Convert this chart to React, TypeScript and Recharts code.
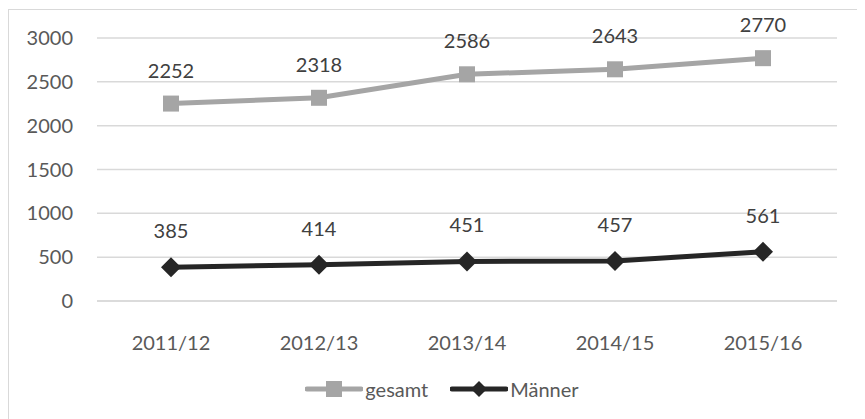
import { LineChart, Line, XAxis, YAxis, CartesianGrid, LabelList } from 'recharts';

const years = ['2011/12', '2012/13', '2013/14', '2014/15', '2015/16'];
const gesamt = [2252, 2318, 2586, 2643, 2770];
const maenner = [385, 414, 451, 457, 561];
const yTicks = [0, 500, 1000, 1500, 2000, 2500, 3000];

const data = years.map((year, i) => ({ year, gesamt: gesamt[i], maenner: maenner[i] }));

const FONT = 'Lato, "Open Sans", sans-serif';
const GRAY = '#A5A5A5';
const DARK = '#262626';

const SquareDot = (props: any) => {
  const { cx, cy } = props;
  if (cx == null || cy == null) return null;
  return <rect x={cx - 8} y={cy - 8} width={16} height={16} fill={GRAY} />;
};

const DiamondDot = (props: any) => {
  const { cx, cy } = props;
  if (cx == null || cy == null) return null;
  return <path d={`M${cx - 10},${cy} L${cx},${cy - 10} L${cx + 10},${cy} L${cx},${cy + 10} Z`} fill={DARK} />;
};

function ChartLegend() {
  return (
    <div
      style={{
        position: 'absolute',
        top: 367,
        left: 0,
        width: 866,
        display: 'flex',
        justifyContent: 'center',
        alignItems: 'center',
        fontFamily: FONT,
        fontSize: 20,
        color: '#595959',
      }}
    >
      <svg width={58} height={20}>
        <line x1={2} y1={10} x2={56} y2={10} stroke={GRAY} strokeWidth={5} strokeLinecap="round" />
        <rect x={21} y={2} width={16} height={16} fill={GRAY} />
      </svg>
      <span style={{ marginLeft: 2, marginRight: 22 }}>gesamt</span>
      <svg width={58} height={20}>
        <line x1={2} y1={10} x2={56} y2={10} stroke={DARK} strokeWidth={5} strokeLinecap="round" />
        <path d="M21,10 L29,2 L37,10 L29,18 Z" fill={DARK} />
      </svg>
      <span style={{ marginLeft: 2 }}>Männer</span>
    </div>
  );
}

export default function App() {
  return (
    <div
      style={{
        position: 'relative',
        marginTop: 1,
        width: 870,
        height: 420,
        borderLeft: '1px solid #d9d9d9',
        borderTop: '1px solid #d9d9d9',
      }}
    >
      <LineChart width={866} height={410} data={data} margin={{ top: 28, right: 38, left: 28, bottom: 59 }}>
        <CartesianGrid vertical={false} stroke="#d9d9d9" strokeWidth={1.5} />
        <XAxis
          dataKey="year"
          padding={{ left: 74, right: 74 }}
          axisLine={{ stroke: '#d9d9d9', strokeWidth: 1.5 }}
          tickLine={false}
          tickSize={0}
          tickMargin={35}
          height={60}
          tick={{ fill: '#595959', fontSize: 20, fontFamily: FONT }}
        />
        <YAxis
          domain={[0, 3000]}
          ticks={yTicks}
          axisLine={false}
          tickLine={false}
          tickSize={0}
          tickMargin={24}
          width={60}
          tick={{ fill: '#595959', fontSize: 20, fontFamily: FONT }}
        />
        <Line dataKey="gesamt" name="gesamt" stroke={GRAY} strokeWidth={5} dot={<SquareDot />} isAnimationActive={false}>
          <LabelList dataKey="gesamt" position="top" offset={26} fill="#404040" fontSize={20} fontFamily={FONT} />
        </Line>
        <Line dataKey="maenner" name="Männer" stroke={DARK} strokeWidth={5} dot={<DiamondDot />} isAnimationActive={false}>
          <LabelList dataKey="maenner" position="top" offset={29} fill="#404040" fontSize={20} fontFamily={FONT} />
        </Line>
      </LineChart>
      <ChartLegend />
    </div>
  );
}
